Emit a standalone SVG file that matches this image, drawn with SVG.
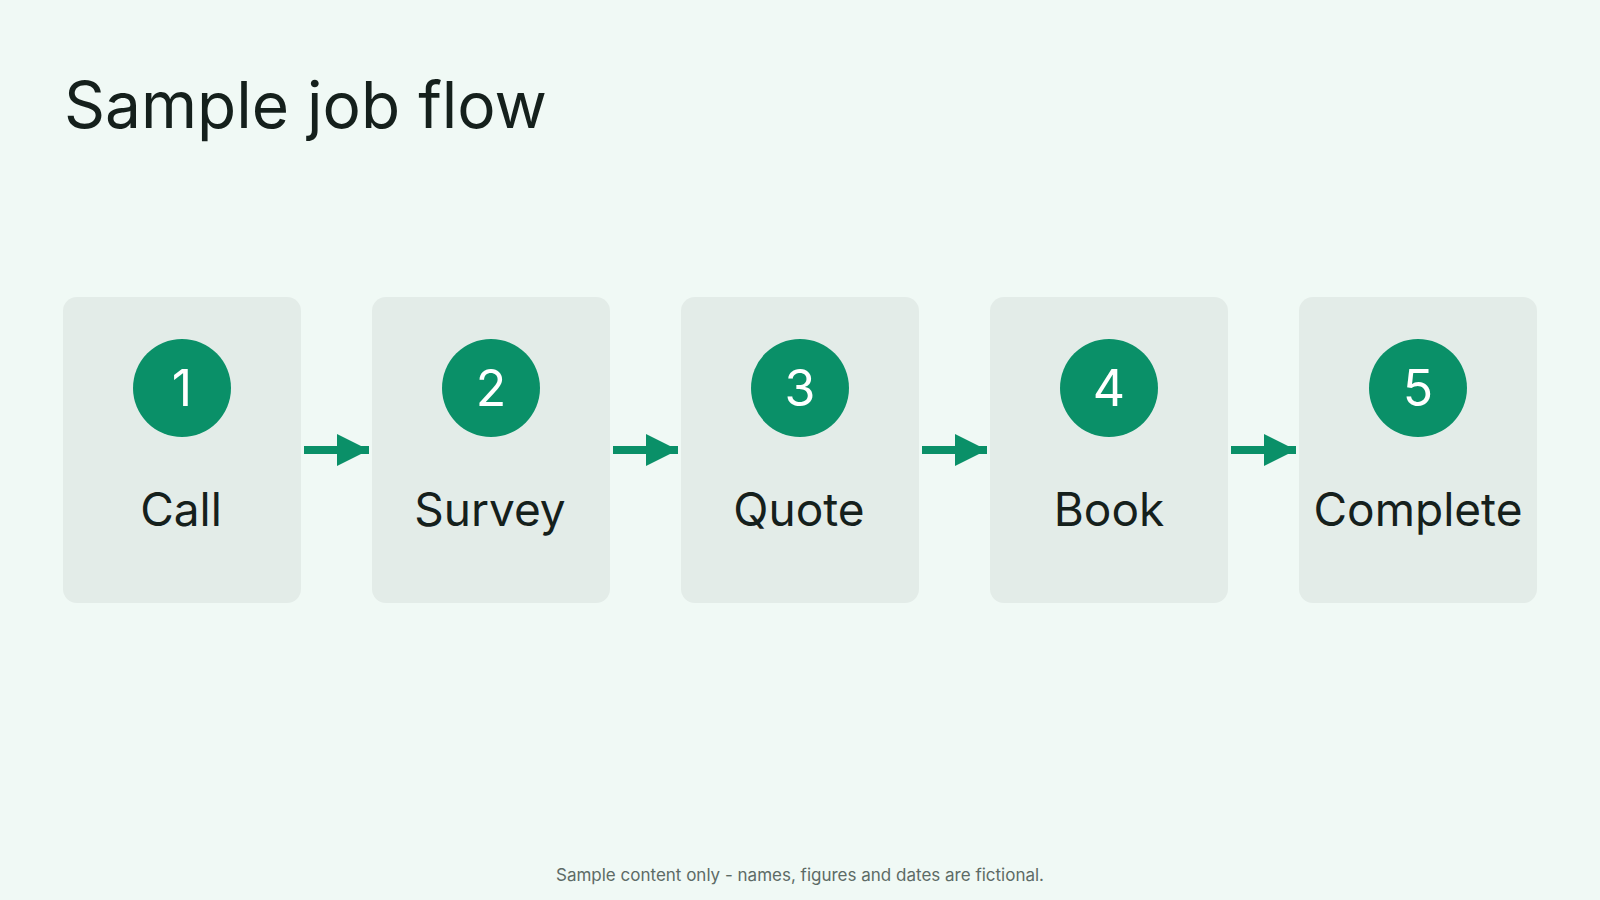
<svg xmlns="http://www.w3.org/2000/svg" width="1600" height="900" viewBox="0 0 1600 900">
<style>
.box{fill:#e3ece8}
.c{fill:#0a9068}
.n{font-family:Inter,"Liberation Sans",sans-serif;font-size:50px;fill:#fff;text-anchor:middle}
.l{font-family:Inter,"Liberation Sans",sans-serif;font-size:46px;fill:#15201c;text-anchor:middle}
.a{stroke:#0a9068;stroke-width:8;fill:none}
</style>
<defs><marker id="ah" markerWidth="4" markerHeight="4" refX="4" refY="2" orient="auto" markerUnits="strokeWidth"><path d="M0,0 L4,2 L0,4 Z" fill="#0a9068"/></marker></defs>
<rect width="1600" height="900" fill="#f0f9f5"/>
<text x="64" y="128" font-family="Inter,'Liberation Sans',sans-serif" font-size="64" fill="#15201c">Sample job flow</text>
<g id="n1"><rect class="box" x="63" y="297" width="238" height="306" rx="14"/><circle class="c" cx="182" cy="388" r="49"/><text class="n" x="182" y="406">1</text><text class="l" x="181" y="526">Call</text></g>
<g id="n2"><rect class="box" x="372" y="297" width="238" height="306" rx="14"/><circle class="c" cx="491" cy="388" r="49"/><text class="n" x="491" y="406">2</text><text class="l" x="490" y="526">Survey</text></g>
<g id="n3"><rect class="box" x="681" y="297" width="238" height="306" rx="14"/><circle class="c" cx="800" cy="388" r="49"/><text class="n" x="800" y="406">3</text><text class="l" x="799" y="526">Quote</text></g>
<g id="n4"><rect class="box" x="990" y="297" width="238" height="306" rx="14"/><circle class="c" cx="1109" cy="388" r="49"/><text class="n" x="1109" y="406">4</text><text class="l" x="1109" y="526">Book</text></g>
<g id="n5"><rect class="box" x="1299" y="297" width="238" height="306" rx="14"/><circle class="c" cx="1418" cy="388" r="49"/><text class="n" x="1418" y="406">5</text><text class="l" x="1418" y="526">Complete</text></g>
<g id="connectors">
<line class="a" x1="304" y1="450" x2="369" y2="450" marker-end="url(#ah)"/>
<line class="a" x1="613" y1="450" x2="678" y2="450" marker-end="url(#ah)"/>
<line class="a" x1="922" y1="450" x2="987" y2="450" marker-end="url(#ah)"/>
<line class="a" x1="1231" y1="450" x2="1296" y2="450" marker-end="url(#ah)"/>
</g>
<text x="800" y="881" text-anchor="middle" font-family="Inter,'Liberation Sans',sans-serif" font-size="17" fill="#5d6b66">Sample content only - names, figures and dates are fictional.</text>
</svg>
